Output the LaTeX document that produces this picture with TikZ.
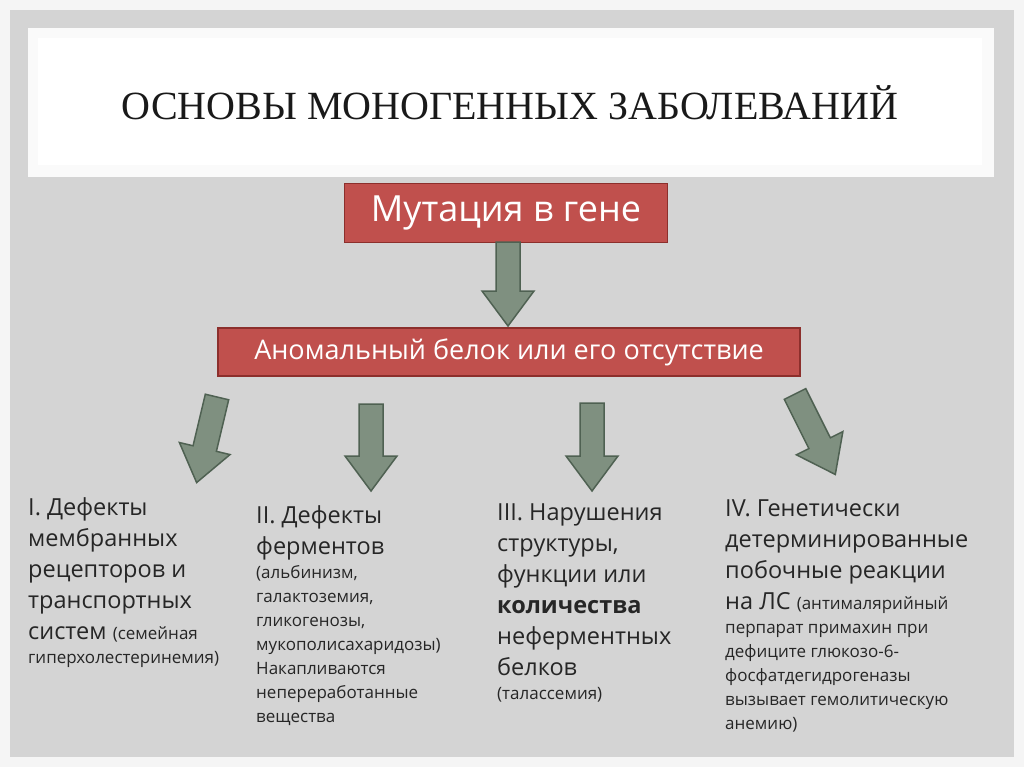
\documentclass[tikz,border=0pt]{standalone}
\usepackage{fontspec}
\setmainfont{Open Sans}
\newfontfamily\titlefont{Liberation Serif}
\definecolor{redbox}{HTML}{C0504D}
\definecolor{redline}{HTML}{8C2F2C}
\definecolor{arrfill}{HTML}{7F9080}
\definecolor{arrline}{HTML}{4F6152}
\definecolor{panel}{HTML}{D4D4D4}
\tikzset{
 redb/.style={fill=redbox,draw=redline,line width=1.5pt,text=white,inner sep=0pt,anchor=center},
 barrow/.style={fill=arrfill,draw=arrline,line width=1.5pt,line join=miter},
 coltext/.style={anchor=north west,align=left,inner sep=0pt,font=\fontsize{23.5}{31}\selectfont,text=black!85},
}
\newcommand{\sm}{\fontsize{17}{23}\selectfont}
\newcommand{\blockarrow}[4]{% x,y,angle,length
 \draw[barrow,shift={(#1,#2)},rotate=#3] (-12,0) -- (12,0) -- (12,#4-35) -- (26,#4-35) -- (0,#4) -- (-26,#4-35) -- (-12,#4-35) -- cycle;}
\begin{document}
\begin{tikzpicture}[x=1pt,y=-1pt]
\useasboundingbox (0,0) rectangle (1024,767);
\fill[white!92!gray] (0,0) rectangle (1024,767);
\fill[panel] (10,10) rectangle (1014,757);
\fill[white!96!gray] (28,28) rectangle (994,177);
\fill[white] (38,38) rectangle (982,165);
\node[font=\titlefont\fontsize{40}{44}\selectfont,text=black!90] (title) at (510,103) {ОСНОВЫ МОНОГЕННЫХ ЗАБОЛЕВАНИЙ};
\node[redb,minimum width=323pt,minimum height=59pt,font=\fontsize{36}{40}\selectfont] (mut) at (506,213) {Мутация в гене};
\node[redb,minimum width=582pt,minimum height=48pt,font=\fontsize{27}{30}\selectfont] (prot) at (509,352) {Аномальный белок или его отсутствие};
\blockarrow{508}{242}{0}{84}
\blockarrow{217}{397}{-13.4}{88}
\blockarrow{371}{404}{0}{87}
\blockarrow{592}{403}{0}{88}
\blockarrow{795}{394}{26.6}{90}
\node[coltext] (c1) at (28,497) {I. Дефекты\\мембранных\\рецепторов и\\транспортных\\систем {\sm (семейная}\\[-7pt]{\sm гиперхолестеринемия)}};
\node[coltext] (c2) at (256,505) {II. Дефекты\\ферментов\\[-7pt]{\sm (альбинизм,}\\[-7pt]{\sm галактоземия,}\\[-7pt]{\sm гликогенозы,}\\[-7pt]{\sm мукополисахаридозы)}\\[-7pt]{\sm Накапливаются}\\[-7pt]{\sm непереработанные}\\[-7pt]{\sm вещества}};
\node[coltext] (c3) at (497,504) {III. Нарушения\\структуры,\\функции или\\\textbf{количества}\\неферментных\\белков\\[-7pt]{\sm (талассемия)}};
\node[coltext] (c4) at (725,500) {IV. Генетически\\детерминированные\\побочные реакции\\на ЛС {\sm (антималярийный}\\[-7pt]{\sm перпарат примахин при}\\[-7pt]{\sm дефиците глюкозо-6-}\\[-7pt]{\sm фосфатдегидрогеназы}\\[-7pt]{\sm вызывает гемолитическую}\\[-7pt]{\sm анемию)}};
\end{tikzpicture}
\end{document}
